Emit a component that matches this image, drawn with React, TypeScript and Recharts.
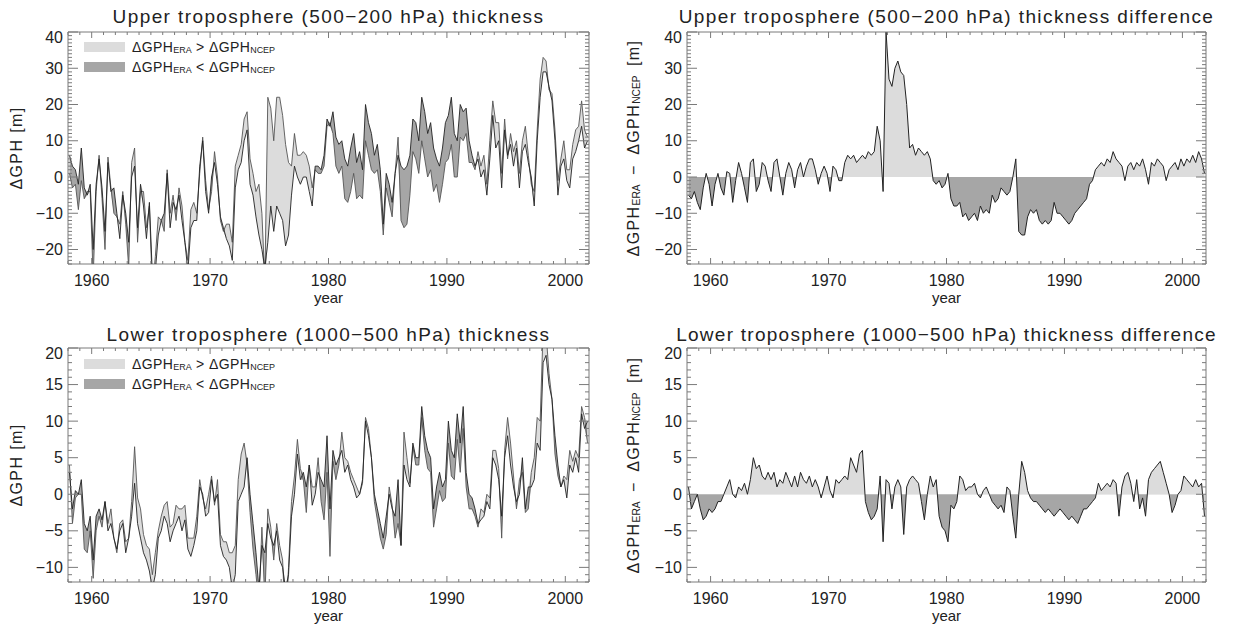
import React from 'react';
import { ComposedChart, Area, Line, XAxis, YAxis, ReferenceArea, Legend } from 'recharts';

const FONT = '"Liberation Sans", Arial, Helvetica, sans-serif';
const INK = '#222';
const AXIS = '#7a7a7a';
const LIGHT = '#dcdcdc';
const DARK = '#a6a6a6';
const W = 1233;
const H = 627;

// quarterly values, 1958 Q1 ... 2001 Q4
const upperNcep = [
  6, 3, 2, -2, /* 1959 */ 8, -3, -5, -2, /* 1960 */ -20, -2, 5, -3, /* 1961 */ -15, 4, -4, -3,
  -10, -17, -5, -10, /* 1963 */ -18, 0, 3, -14, /* 1964 */ -2, -8, -17, -7, /* 1965 */ -27, -26, -16, -12,
  -10, 1, -14, -7, /* 1967 */ -9, -5, -12, -18, /* 1968 */ -26, -14, -12, -12, /* 1969 */ 3, 10, -4, -10,
  0, 4, -2, -11, /* 1971 */ -14, -17, -19, -23, /* 1972 */ -3, 2, 4, 10, /* 1973 */ 13, -2, -5, -11,
  -16, -20, -25, -18, /* 1975 */ -8, -15, -8, -10, /* 1976 */ -12, -19, -16, -5, /* 1977 */ 3, 0, -2, 0,
  0, -4, -8, 3, /* 1979 */ 3, 2, 6, 16, /* 1980 */ 14, 18, 11, 9, /* 1981 */ 10, 5, 3, 8,
  12, 4, 7, 2, /* 1983 */ 20, 15, 12, 6, /* 1984 */ 9, 2, -13, 1, /* 1985 */ -2, -7, 1, 6,
  3, 2, 3, 6, /* 1987 */ 16, 15, 10, 22, /* 1988 */ 18, 12, 15, 8, /* 1989 */ 5, 3, 8, 15,
  17, 22, 12, 10, /* 1991 */ 20, 18, 19, 10, /* 1992 */ 6, 3, 5, 0, /* 1993 */ 2, -5, 5, 17,
  8, 10, -3, 13, /* 1995 */ 6, 9, 3, 8, /* 1996 */ -3, 7, 9, 4, /* 1997 */ 0, -8, 10, 22,
  29, 29, 25, 21, /* 1999 */ 10, -5, 3, 5, /* 2000 */ -1, -3, 5, 7, /* 2001 */ 10, 14, 8, 10,
];

const upperDiff = [
  -5, -6, -4, -7, /* 1959 */ -9, -3, 1, -2, /* 1960 */ -8, -2, 1, -3, /* 1961 */ -5, 1.5, 1, -7,
  -1, 4, 1, -3, /* 1963 */ -7, 4, 5, -4, /* 1964 */ -2, 4, 3, -1, /* 1965 */ -4, 4, 5, 0,
  -5, 1, 4, 2, /* 1967 */ -3, 2, 4, 0, /* 1968 */ 3, 5, 5, 2, /* 1969 */ -2, 1, 3, 1,
  -4, 3, 2, -1, /* 1971 */ -1, 4, 6, 5, /* 1972 */ 6, 4, 5, 6, /* 1973 */ 5, 7, 6, 7,
  14, 10, -4, 40, /* 1975 */ 27, 25, 30, 32, /* 1976 */ 29, 28, 20, 8, /* 1977 */ 9, 6, 8, 7,
  6, 7, 5, -1, /* 1979 */ -2, -1, -3, -2, /* 1980 */ 1, -6, -8, -8, /* 1981 */ -7, -11, -10, -12,
  -11, -10, -12, -8, /* 1983 */ -10, -9, -10, -5, /* 1984 */ -7, -6, -3, -4, /* 1985 */ -5, -4, 0, 5,
  -15, -16, -16, -11, /* 1987 */ -9, -10, -9, -12, /* 1988 */ -13, -12, -13, -12, /* 1989 */ -7, -10, -10, -11,
  -12, -13, -12, -10, /* 1991 */ -9, -8, -7, -6, /* 1992 */ -2, -1, 2, 3, /* 1993 */ 4, 3, 5, 4,
  7, 5, 4, 3, /* 1995 */ -1, 3, 4, 2, /* 1996 */ 4, 3, 5, 2, /* 1997 */ -2, 4, 3, 5,
  4, 3, -1, 2, /* 1999 */ 3, 4, 2, 5, /* 2000 */ 3, 5, 4, 6, /* 2001 */ 4, 7, 5, 1,
];

const lowerNcep = [
  3, -2, 0.5, 0, /* 1959 */ 2, -4, -5, -3, /* 1960 */ -9, -3, -2, -3.5, /* 1961 */ -1, -5, -4, -6,
  -7.5, -5, -4, -8, /* 1963 */ -6, -3, 1.5, -4, /* 1964 */ -6, -8, -9, -10.5, /* 1965 */ -13, -11, -6, -5,
  -3, -4, -6.5, -5, /* 1967 */ -4, -3, -5, -3.5, /* 1968 */ -7.5, -8.5, -7, -5, /* 1969 */ 1, 0, -3, -2.5,
  2, -1, 0, -7, /* 1971 */ -8.5, -9, -10, -13, /* 1972 */ -11, -1, 0, 1, /* 1973 */ 5, 0, -4, -8,
  -13, -7, -8, -4, /* 1975 */ -6, -7, -5, -9, /* 1976 */ -10, -13, -11, -3, /* 1977 */ 0, 5.5, 2, 3,
  1, 4, -1.5, 0, /* 1979 */ 3, 2, 1, 8, /* 1980 */ -2, 6, 4, 5, /* 1981 */ 6, 3, 4, 2,
  1, -0.5, 0, 2, /* 1983 */ 10, 8, 5, 0, /* 1984 */ -2, -4, -6, -3, /* 1985 */ 0, -2, -3, 2,
  -7, 4, 2, 1, /* 1987 */ 7, 5, 5, 12, /* 1988 */ 8, 6, 5, -2, /* 1989 */ 1, 3, 1, 2,
  10, 6, 5, 11, /* 1991 */ 7, 12, 3, 0, /* 1992 */ -0.5, -2, -4, -3.5, /* 1993 */ -3, -1, -2, 5,
  4, 2, -3, 5, /* 1995 */ 8, 4, 1, -1, /* 1996 */ 0, 5, -2, 1, /* 1997 */ 1, 2, 7, 6,
  18, 19, 15, 13, /* 1999 */ 8, 4, 1, 2, /* 2000 */ -0.5, 4, 3, 5, /* 2001 */ 3, 11, 9, 10,
];

const lowerDiff = [
  1, -2, -1, 0, /* 1959 */ -2, -3.5, -3, -2, /* 1960 */ -2.5, -2, -1, -1, /* 1961 */ 0, 1, 2, 0,
  -0.5, 1, 0.5, 1.5, /* 1963 */ 0, 2, 5, 3.5, /* 1964 */ 4, 2.5, 2, 3, /* 1965 */ 2, 3, 1, 2,
  1.5, 3, 2, 1, /* 1967 */ 2.5, 1, 3, 2, /* 1968 */ 1.5, 2.5, 1, 2, /* 1969 */ 1, -0.5, 1, 2.5,
  0.5, -0.5, 2, 1.5, /* 1971 */ 2, 2.5, 2, 5, /* 1972 */ 4, 3, 5.5, 6, /* 1973 */ -1, -2.5, -3.5, -3,
  -2, 2.5, -6.5, 2, /* 1975 */ 1.5, -2, 1, 2, /* 1976 */ 1, -5.5, 1, 2, /* 1977 */ 2.5, 2, 1.5, -1,
  -3.5, 0, 2.5, 1, /* 1979 */ 2, -3, -4.5, -5, /* 1980 */ -6.5, -1.5, -2, -1, /* 1981 */ 2.5, 2, 0.5, 1,
  1, 1.5, 0, -0.5, /* 1983 */ 0.5, 1, 0, -1, /* 1984 */ -1.5, -2, -1.5, -2.5, /* 1985 */ 1, 0.5, -3, -6,
  0, 4.5, 3, 0.5, /* 1987 */ -0.5, -1, -1, -1.5, /* 1988 */ -2, -2.5, -2, -2.5, /* 1989 */ -3, -2.5, -2, -2.5,
  -3, -3.5, -3, -3.5, /* 1991 */ -4, -3, -2, -2, /* 1992 */ -1.5, -1, -0.5, 1.5, /* 1993 */ 0.5, 1, 1.5, 1,
  2, 1.5, -3, 1, /* 1995 */ 2.5, 3, 1.5, -1, /* 1996 */ 2, -2, -0.5, -3, /* 1997 */ 2, 3, 3.5, 4,
  4.5, 3, 1.5, 0, /* 1999 */ -2.5, -1.5, 0, 0.5, /* 2000 */ 2.5, 2, 1.5, 1, /* 2001 */ 2, 1, 1.5, -3,
];

const quarters = upperNcep.map((_, i) => 1958 + (i + 0.5) / 4);
const years = Array.from({ length: 45 }, (_, i) => 1958 + i);
const decades = [1960, 1970, 1980, 1990, 2000];
const upperTicks = Array.from({ length: 65 }, (_, i) => -24 + i);
const lowerTicks = Array.from({ length: 33 }, (_, i) => -12 + i);
const upperLabels = [-20, -10, 0, 10, 20, 30, 40];
const lowerLabels = [-10, -5, 0, 5, 10, 15, 20];

const buildRows = (ncep: number[], diff: number[]) =>
  ncep.map((n, i) => {
    const era = n + diff[i];
    return {
      t: quarters[i],
      ncep: n,
      era,
      diff: diff[i],
      up: [n, Math.max(n, era)],
      down: [Math.min(n, era), n],
    };
  });

const upperRows = buildRows(upperNcep, upperDiff);
const lowerRows = buildRows(lowerNcep, lowerDiff);

type Box = { L: number; T: number; R: number; B: number };

const fmt = (v: number) => (v < 0 ? `\u2212${-v}` : `${v}`);

const Sub = ({ children }: { children: React.ReactNode }) => (
  <span style={{ fontSize: '0.64em', position: 'relative', top: '0.12em', letterSpacing: 0 }}>{children}</span>
);

const LegendBox = () => (
  <div style={{ fontFamily: FONT, fontSize: 14, color: INK, letterSpacing: 0.4 }}>
    {[
      { c: LIGHT, op: '>' },
      { c: DARK, op: '<' },
    ].map((r) => (
      <div key={r.op} style={{ display: 'flex', alignItems: 'center', height: 20 }}>
        <span style={{ display: 'inline-block', width: 41, height: 10, background: r.c, marginRight: 7 }} />
        <span>
          ΔGPH<Sub>ERA</Sub> {r.op} ΔGPH<Sub>NCEP</Sub>
        </span>
      </div>
    ))}
  </div>
);

type PanelProps = {
  box: Box;
  rows: ReturnType<typeof buildRows>;
  domain: [number, number];
  yTicks: number[];
  yLabels: number[];
  diff: boolean;
  id: string;
  legendTop?: number;
};

function Panel({ box, rows, domain, yTicks, yLabels, diff, id, legendTop }: PanelProps) {
  const [lo, hi] = domain;
  const zero = hi / (hi - lo);

  const xTick = (p: any) => {
    const v = p.payload.value;
    const major = decades.includes(v);
    const len = major ? 6 : 3;
    return (
      <g key={`x${v}`}>
        <line x1={p.x} x2={p.x} y1={box.B} y2={box.B - len} stroke={AXIS} />
        <line x1={p.x} x2={p.x} y1={box.T} y2={box.T + len} stroke={AXIS} />
        {major && (
          <text x={p.x} y={box.B + 22} textAnchor="middle" fontSize={16} fill={INK} fontFamily={FONT}>
            {v}
          </text>
        )}
      </g>
    );
  };

  const yTick = (p: any) => {
    const v = p.payload.value;
    const major = yLabels.includes(v);
    const len = major ? 10 : 4;
    // the top label sits just under the frame, as in the original
    const dy = v === hi ? 10.5 : 5.5;
    return (
      <g key={`y${v}`}>
        <line x1={box.L} x2={box.L + len} y1={p.y} y2={p.y} stroke={AXIS} />
        <line x1={box.R} x2={box.R - len} y1={p.y} y2={p.y} stroke={AXIS} />
        {major && (
          <text x={box.L - 5} y={p.y + dy} textAnchor="end" fontSize={16} fill={INK} fontFamily={FONT}>
            {fmt(v)}
          </text>
        )}
      </g>
    );
  };

  return (
    <div style={{ position: 'absolute', left: 0, top: 0 }}>
      <ComposedChart
        width={W}
        height={H}
        data={rows}
        margin={{ top: box.T, left: box.L - 1, right: W - box.R, bottom: H - box.B - 1 }}
      >
        <defs>
          <linearGradient id={id} gradientUnits="userSpaceOnUse" x1={0} y1={box.T} x2={0} y2={box.B}>
            <stop offset={zero} stopColor={LIGHT} />
            <stop offset={zero} stopColor={DARK} />
          </linearGradient>
        </defs>
        <XAxis
          dataKey="t"
          type="number"
          domain={[1958, 2002]}
          ticks={years}
          interval={0}
          height={1}
          axisLine={false}
          tickLine={false}
          tickSize={0}
          tickMargin={0}
          tick={xTick}
          allowDataOverflow
        />
        <YAxis
          type="number"
          domain={domain}
          ticks={yTicks}
          interval={0}
          width={1}
          axisLine={false}
          tickLine={false}
          tickSize={0}
          tickMargin={0}
          tick={yTick}
          allowDataOverflow
        />
        {diff ? (
          <Area
            dataKey="diff"
            baseValue={0}
            type="linear"
            stroke={INK}
            strokeWidth={1}
            fill={`url(#${id})`}
            fillOpacity={1}
            dot={false}
            activeDot={false}
            isAnimationActive={false}
          />
        ) : null}
        {!diff ? (
          <Area dataKey="up" type="linear" stroke="none" fill={LIGHT} fillOpacity={1} dot={false} activeDot={false} isAnimationActive={false} />
        ) : null}
        {!diff ? (
          <Area dataKey="down" type="linear" stroke="none" fill={DARK} fillOpacity={1} dot={false} activeDot={false} isAnimationActive={false} />
        ) : null}
        {!diff ? (
          <Line dataKey="era" type="linear" stroke="#555" strokeWidth={0.9} dot={false} activeDot={false} isAnimationActive={false} />
        ) : null}
        {!diff ? (
          <Line dataKey="ncep" type="linear" stroke={INK} strokeWidth={0.9} dot={false} activeDot={false} isAnimationActive={false} />
        ) : null}
        <ReferenceArea x1={1958} x2={2002} y1={lo} y2={hi} fill="none" stroke={AXIS} strokeWidth={1} />
        {legendTop !== undefined ? (
          <Legend
            content={() => <LegendBox />}
            layout="vertical"
            align="center"
            verticalAlign="middle"
            wrapperStyle={{ left: 84, top: legendTop, width: 240, height: 40 }}
          />
        ) : null}
      </ComposedChart>
    </div>
  );
}

const titleStyle: React.CSSProperties = {
  position: 'absolute',
  transform: 'translateX(-50%)',
  whiteSpace: 'nowrap',
  fontSize: 19,
  lineHeight: '19px',
  letterSpacing: 1.4,
  color: INK,
};

const yearStyle: React.CSSProperties = {
  position: 'absolute',
  transform: 'translateX(-50%)',
  fontSize: 15,
  lineHeight: '15px',
  color: INK,
};

const yLabelStyle: React.CSSProperties = {
  position: 'absolute',
  transform: 'translate(-50%, -50%) rotate(-90deg)',
  whiteSpace: 'nowrap',
  fontSize: 16,
  lineHeight: '16px',
  letterSpacing: 1.4,
  color: INK,
};

const UL: Box = { L: 68, T: 32, R: 589, B: 264 };
const UR: Box = { L: 687, T: 32, R: 1206, B: 264 };
const LL: Box = { L: 68, T: 348, R: 589, B: 582 };
const LR: Box = { L: 687, T: 348, R: 1206, B: 582 };

const cx = (b: Box) => (b.L + b.R) / 2;
const cy = (b: Box) => (b.T + b.B) / 2;

const DiffLabel = () => (
  <>
    ΔGPH<Sub>ERA</Sub>{'\u2002\u2212\u2002'}ΔGPH<Sub>NCEP</Sub>{'\u2002'}[m]
  </>
);

export default function App() {
  return (
    <div style={{ position: 'absolute', left: 0, top: 0, width: W, height: H, fontFamily: FONT, background: '#fff' }}>
      <Panel box={UL} rows={upperRows} domain={[-24, 40]} yTicks={upperTicks} yLabels={upperLabels} diff={false} id="gUL" legendTop={37} />
      <Panel box={UR} rows={upperRows} domain={[-24, 40]} yTicks={upperTicks} yLabels={upperLabels} diff id="gUR" />
      <Panel box={LL} rows={lowerRows} domain={[-12, 20]} yTicks={lowerTicks} yLabels={lowerLabels} diff={false} id="gLL" legendTop={354} />
      <Panel box={LR} rows={lowerRows} domain={[-12, 20]} yTicks={lowerTicks} yLabels={lowerLabels} diff id="gLR" />

      <div style={{ ...titleStyle, left: cx(UL), top: 6.6 }}>Upper troposphere (500{'\u2212'}200 hPa) thickness</div>
      <div style={{ ...titleStyle, left: cx(UR), top: 6.6 }}>Upper troposphere (500{'\u2212'}200 hPa) thickness difference</div>
      <div style={{ ...titleStyle, left: cx(LL), top: 324.5 }}>Lower troposphere (1000{'\u2212'}500 hPa) thickness</div>
      <div style={{ ...titleStyle, left: cx(LR), top: 324.5, letterSpacing: 1.27 }}>
        Lower troposphere (1000{'\u2212'}500 hPa) thickness difference
      </div>

      <div style={{ ...yearStyle, left: cx(UL), top: 290.3 }}>year</div>
      <div style={{ ...yearStyle, left: cx(UR), top: 290.3 }}>year</div>
      <div style={{ ...yearStyle, left: cx(LL), top: 608.3 }}>year</div>
      <div style={{ ...yearStyle, left: cx(LR), top: 608.3 }}>year</div>

      <div style={{ ...yLabelStyle, left: 17, top: cy(UL) }}>ΔGPH [m]</div>
      <div style={{ ...yLabelStyle, left: 17, top: cy(LL) }}>ΔGPH [m]</div>
      <div style={{ ...yLabelStyle, left: 635, top: cy(UR) }}>
        <DiffLabel />
      </div>
      <div style={{ ...yLabelStyle, left: 635, top: cy(LR) }}>
        <DiffLabel />
      </div>
    </div>
  );
}
